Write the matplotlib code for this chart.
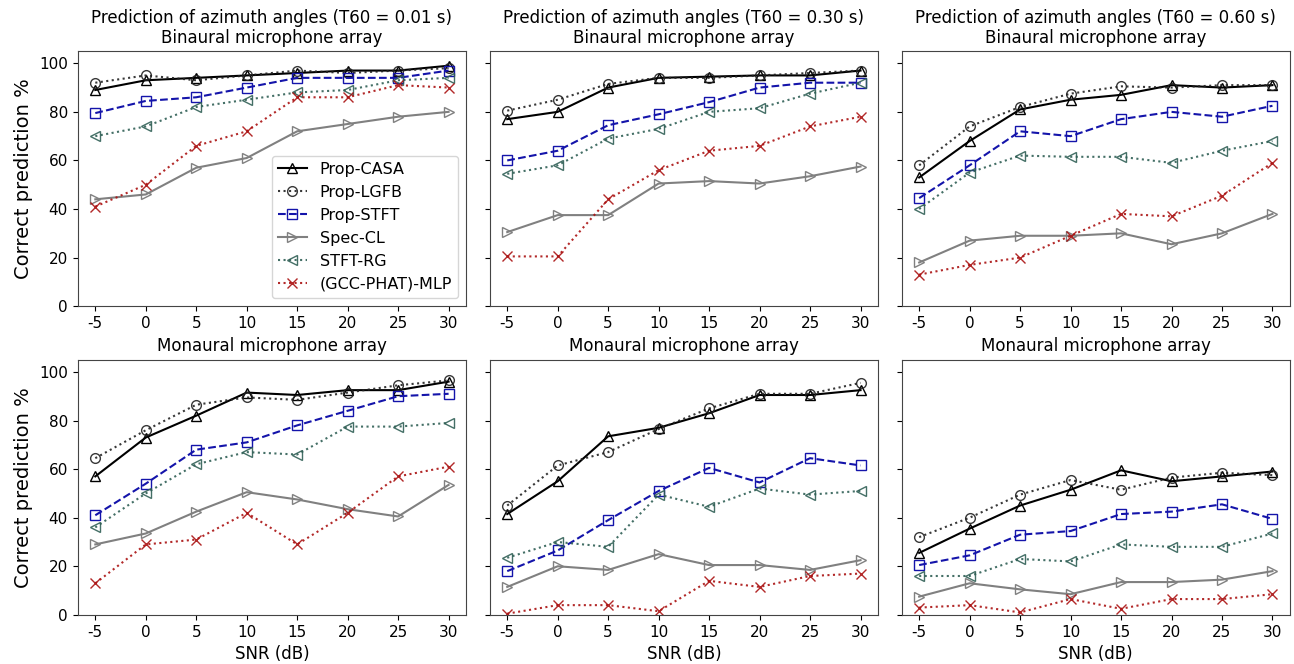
import numpy as np
import matplotlib
matplotlib.use('Agg')
import matplotlib.pyplot as plt

plt.rcParams['axes.unicode_minus'] = False

snr = [-5, 0, 5, 10, 15, 20, 25, 30]
t60_labels = ['0.01', '0.30', '0.60']
methods = ['Prop-CASA', 'Prop-LGFB', 'Prop-STFT', 'Spec-CL', 'STFT-RG', '(GCC-PHAT)-MLP']

# Binaural microphone array, one list per T60
bin_casa = [[89, 93, 94, 95, 96, 97, 97, 99],
            [77, 80, 90, 94, 94.5, 95, 95, 97],
            [53, 68, 81, 85, 87, 91, 90, 91]]
bin_lgfb = [[92, 95, 93, 95, 97, 96, 97, 98],
            [80.5, 85, 91.5, 94, 94, 95, 96, 97],
            [58, 74, 82, 87.5, 90.5, 90, 91, 91]]
bin_stft = [[79.5, 84.5, 86, 90, 94, 94, 94, 97],
            [60, 64, 74.5, 79, 84, 90, 92, 92],
            [44.5, 58, 72, 70, 77, 80, 78, 82.5]]
bin_speccl = [[44, 46, 57, 61, 72, 75, 78, 80],
              [30.5, 37.5, 37.5, 50.5, 51.5, 50.5, 53.5, 57.5],
              [18, 27, 29, 29, 30, 25.5, 30, 38]]
bin_stftrg = [[70, 74, 82, 85, 88, 89, 93, 94],
              [54.5, 58, 69, 73, 80, 81.5, 87.5, 92],
              [40, 55, 62, 61.5, 61.5, 59, 64, 68]]
bin_gcc = [[41, 50, 66, 72, 86, 86, 91, 90],
           [20.5, 20.5, 44, 56, 64, 66, 74, 78],
           [13, 17, 20, 29, 38, 37, 45.5, 59]]

# Monaural microphone array
mon_casa = [[57, 73, 82, 91.5, 90.5, 92.5, 92.5, 96],
            [41.5, 55, 73.5, 77, 83, 90.5, 90.5, 92.5],
            [25.5, 35.5, 45, 51.5, 59.5, 55, 57, 59]]
mon_lgfb = [[64.5, 76, 86.5, 89.5, 88.5, 91.5, 94.5, 96.5],
            [45, 61.5, 67, 76.5, 85, 91, 91, 95.5],
            [32, 40, 49.5, 55.5, 51.5, 56.5, 58.5, 57.5]]
mon_stft = [[41, 54, 68, 71, 78, 84, 90, 91],
            [18, 26.5, 39, 51, 60.5, 54.5, 64.5, 61.5],
            [20.5, 24.5, 33, 34.5, 41.5, 42.5, 45.5, 39.5]]
mon_speccl = [[29, 33.5, 42.5, 50.5, 47.5, 43.5, 40.5, 53.5],
              [11.5, 20, 18.5, 25, 20.5, 20.5, 18.5, 22.5],
              [7.5, 13, 10.5, 8.5, 13.5, 13.5, 14.5, 18]]
mon_stftrg = [[36, 50, 62, 67, 66, 77.5, 77.5, 79],
              [23.5, 30, 28, 49.5, 44.5, 52, 49.5, 51],
              [16, 16, 23, 22, 29, 28, 28, 33.5]]
mon_gcc = [[13, 29, 31, 42, 29, 42, 57, 61],
           [0.5, 4, 4, 1.5, 14, 11.5, 16, 17],
           [3, 4, 1, 6.5, 2.5, 6.5, 6.5, 8.5]]

styles = [dict(color='black', ls='-', marker='^'),
          dict(color='#222222', ls=':', marker='o', alpha=0.9),
          dict(color='#1414aa', ls='--', marker='s'),
          dict(color='gray', ls='-', marker='>'),
          dict(color='#2f5f55', ls=':', marker='<', alpha=0.9),
          dict(color='#aa1111', ls=':', marker='x', alpha=0.9)]

fig, axes = plt.subplots(2, 3, figsize=(12.94, 6.64), dpi=100, sharey='row')
fig.subplots_adjust(left=0.06, right=0.997, top=0.923, bottom=0.074, wspace=0.06, hspace=0.21)

for row, data in enumerate([[bin_casa, bin_lgfb, bin_stft, bin_speccl, bin_stftrg, bin_gcc],
                            [mon_casa, mon_lgfb, mon_stft, mon_speccl, mon_stftrg, mon_gcc]]):
    for col in range(3):
        ax = axes[row, col]
        for name, series, st in zip(methods, data, styles):
            ax.plot(snr, series[col], label=name, lw=1.5, markersize=7,
                    markerfacecolor='none', **st)
        ax.set_ylim(0, 105)
        ax.set_xticks(snr)
        ax.set_yticks([0, 20, 40, 60, 80, 100])
        ax.tick_params(labelsize=11)
        for s in ax.spines.values():
            s.set_color('#444444')
        if row == 0:
            ax.set_title('Prediction of azimuth angles (T60 = %s s)\nBinaural microphone array' % t60_labels[col],
                         fontsize=12, linespacing=1.1)
        else:
            ax.set_title('Monaural microphone array', fontsize=12)
            ax.set_xlabel('SNR (dB)', fontsize=12)
        if col == 0:
            ax.set_ylabel('Correct prediction %', fontsize=14)

axes[0, 0].legend(loc='lower right', fontsize=11.5, handlelength=1.8)
fig.savefig('out.png', dpi=100)
